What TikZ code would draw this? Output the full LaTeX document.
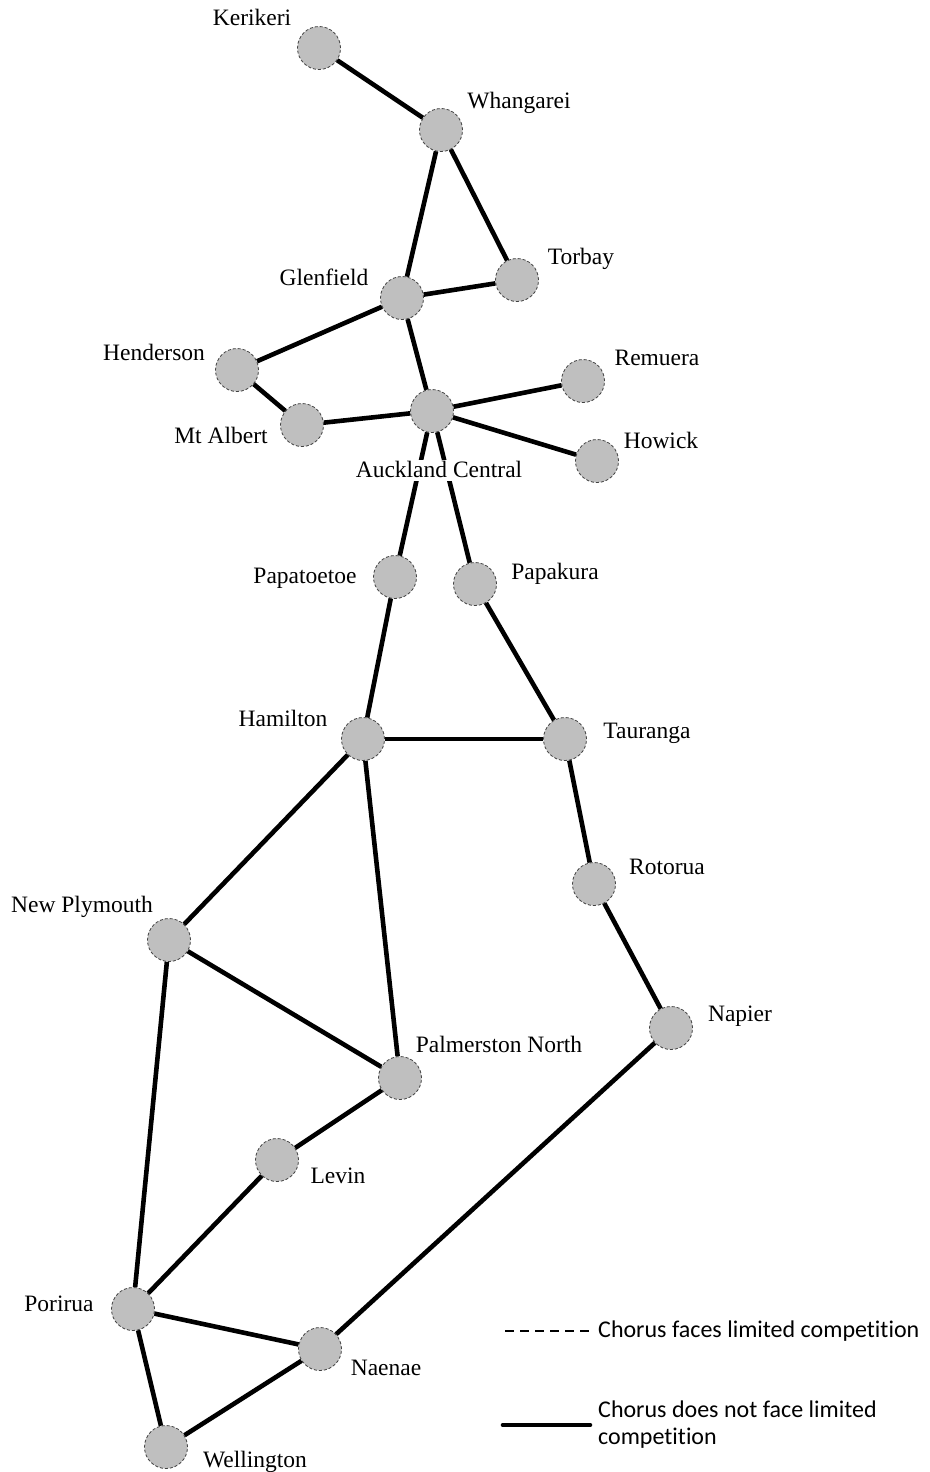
\documentclass[tikz,border=0pt]{standalone}
\usepackage{fontspec}
\setmainfont{Liberation Serif}
\newfontfamily\legendfont[Ligatures={NoCommon}]{Carlito}
\usetikzlibrary{positioning}

\begin{document}
\begin{tikzpicture}[
        x=1pt, y=-1pt,
        link/.style={line width=4.6pt},
        town/.style={circle, draw=black!75, densely dashed, line width=0.8pt, fill=gray!50, minimum size=43pt, inner sep=0pt},
        townlabel/.style={font=\fontsize{23.5}{27}\selectfont, inner sep=0pt, text height=15pt, text depth=0pt},
        legendtext/.style={font=\legendfont\fontsize{24}{27}\selectfont, inner sep=0pt, anchor=west, align=left}
    ]
    \useasboundingbox (0,0) rectangle (929,1472);

    % Nodes
    \node (kerikeri) [town] at (319,48) {};
    \node (whangarei) [town] at (441,130) {};
    \node (torbay) [town] at (517,280) {};
    \node (glenfield) [town] at (402,298) {};
    \node (henderson) [town] at (237,370) {};
    \node (remuera) [town] at (583,381) {};
    \node (mtalbert) [town] at (302,425) {};
    \node (auckland) [town] at (432,411) {};
    \node (howick) [town] at (597,461) {};
    \node (papatoetoe) [town] at (395,577) {};
    \node (papakura) [town] at (475,584) {};
    \node (hamilton) [town] at (363,739) {};
    \node (tauranga) [town] at (565,739) {};
    \node (rotorua) [town] at (594,884) {};
    \node (newplymouth) [town] at (169,940) {};
    \node (napier) [town] at (671,1028) {};
    \node (palmerston) [town] at (400,1078) {};
    \node (levin) [town] at (277,1160) {};
    \node (porirua) [town] at (133,1309) {};
    \node (naenae) [town] at (320,1349) {};
    \node (wellington) [town] at (166,1447) {};

    % Edges
    \draw[link] (kerikeri) -- (whangarei);
    \draw[link] (whangarei) -- (glenfield);
    \draw[link] (whangarei) -- (torbay);
    \draw[link] (glenfield) -- (torbay);
    \draw[link] (glenfield) -- (henderson);
    \draw[link] (glenfield) -- (auckland);
    \draw[link] (henderson) -- (mtalbert);
    \draw[link] (mtalbert) -- (auckland);
    \draw[link] (auckland) -- (remuera);
    \draw[link] (auckland) -- (howick);
    \draw[link] (auckland) -- (papatoetoe);
    \draw[link] (auckland) -- (papakura);
    \draw[link] (papatoetoe) -- (hamilton);
    \draw[link] (papakura) -- (tauranga);
    \draw[link] (hamilton) -- (tauranga);
    \draw[link] (tauranga) -- (rotorua);
    \draw[link] (rotorua) -- (napier);
    \draw[link] (hamilton) -- (newplymouth);
    \draw[link] (hamilton) -- (palmerston);
    \draw[link] (newplymouth) -- (palmerston);
    \draw[link] (newplymouth) -- (porirua);
    \draw[link] (palmerston) -- (levin);
    \draw[link] (levin) -- (porirua);
    \draw[link] (porirua) -- (naenae);
    \draw[link] (porirua) -- (wellington);
    \draw[link] (wellington) -- (naenae);
    \draw[link] (naenae) -- (napier);

    % Labels
    \node (kerikeri-lbl) [townlabel] at (252,18) {Kerikeri};
    \node (whangarei-lbl) [townlabel] at (519,101) {Whangarei};
    \node (torbay-lbl) [townlabel] at (581,257) {Torbay};
    \node (glenfield-lbl) [townlabel] at (324,278) {Glenfield};
    \node (henderson-lbl) [townlabel] at (154,353) {Henderson};
    \node (remuera-lbl) [townlabel] at (657,358) {Remuera};
    \node (mtalbert-lbl) [townlabel] at (221,436) {Mt Albert};
    \node (howick-lbl) [townlabel] at (661,441) {Howick};
    \node (auckland-lbl) [townlabel, fill=white, inner sep=3pt] at (439,470) {Auckland Central};
    \node (papatoetoe-lbl) [townlabel] at (305,576) {Papatoetoe};
    \node (papakura-lbl) [townlabel] at (555,572) {Papakura};
    \node (hamilton-lbl) [townlabel] at (283,719) {Hamilton};
    \node (tauranga-lbl) [townlabel] at (647,731) {Tauranga};
    \node (rotorua-lbl) [townlabel] at (667,867) {Rotorua};
    \node (newplymouth-lbl) [townlabel] at (82,905) {New Plymouth};
    \node (napier-lbl) [townlabel] at (740,1014) {Napier};
    \node (palmerston-lbl) [townlabel] at (499,1045) {Palmerston North};
    \node (levin-lbl) [townlabel] at (338,1176) {Levin};
    \node (porirua-lbl) [townlabel] at (59,1304) {Porirua};
    \node (naenae-lbl) [townlabel] at (386,1368) {Naenae};
    \node (wellington-lbl) [townlabel] at (255,1460) {Wellington};

    % Legend
    \node (limited) [legendtext] at (598,1331) {Chorus faces limited competition};
    \node (notlimited) [legendtext] at (598,1425) {Chorus does not face limited\\competition};
    \coordinate (limited-start) at (505,1331);
    \coordinate (notlimited-start) at (503,1425);
    \draw[line width=1.6pt, dash pattern=on 9pt off 6pt] (limited-start) -- ([xshift=-4pt]limited.west);
    \draw[link, line cap=round] (notlimited-start) -- ([xshift=-8pt]notlimited.west);

\end{tikzpicture}
\end{document}
